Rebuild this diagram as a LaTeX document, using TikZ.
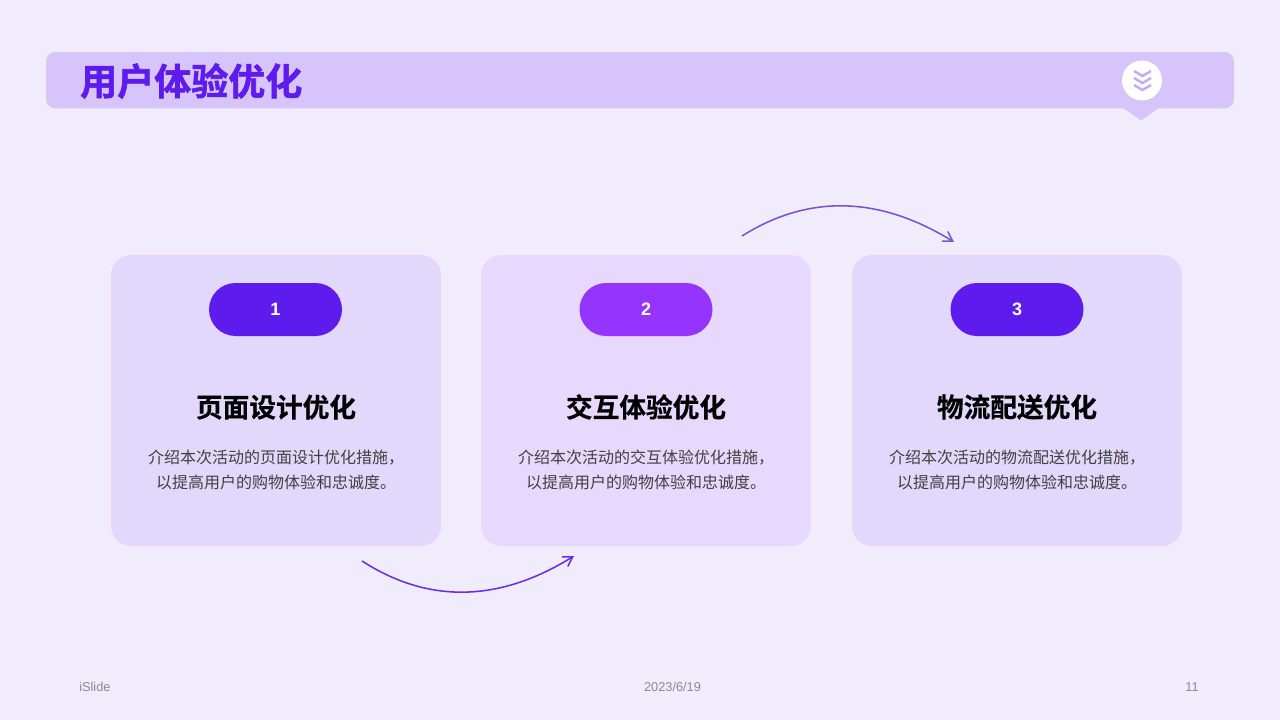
\documentclass[tikz,border=0pt]{standalone}
\usepackage{fontspec}
\setmainfont{Liberation Sans}
\newfontfamily\cjk{Noto Sans CJK SC}
\newfontfamily\cjkb{Noto Sans CJK SC Bold}[FakeBold=0.5]
\newfontfamily\cjkt{Noto Sans CJK SC Bold}[FakeBold=1.6]
\usetikzlibrary{arrows.meta,shapes.misc}
\definecolor{bgc}{HTML}{F0ECFC}
\definecolor{bannerc}{HTML}{D6C4FB}
\definecolor{cardA}{HTML}{E1D8FB}
\definecolor{cardB}{HTML}{E7D9FD}
\definecolor{pillA}{HTML}{5E1BEE}
\definecolor{pillB}{HTML}{9534FF}
\definecolor{chev}{HTML}{C4A8FA}
\definecolor{arrowA}{HTML}{6A2CF0}
\definecolor{arrowB}{HTML}{6F57D0}
\definecolor{bodyc}{HTML}{404040}
\definecolor{footc}{HTML}{8A8A8A}
\tikzset{
  x=0.75pt,y=-0.75pt,
  cardbox/.style={minimum width=247.5pt,minimum height=218.25pt,rounded corners=15pt,inner sep=0pt},
  pillbox/.style={rounded rectangle,minimum width=99.75pt,minimum height=39.75pt,inner sep=0pt,text=white,font=\fontsize{13.5pt}{16pt}\bfseries},
  headtext/.style={font=\cjkb\fontsize{20pt}{24pt}\selectfont,text=black,inner sep=0pt},
  bodytext/.style={font=\cjk\fontsize{12pt}{18.75pt}\selectfont,text=bodyc,align=center,inner sep=0pt},
  foottext/.style={font=\fontsize{9.6pt}{11pt}\selectfont,text=footc,inner sep=0pt},
  curvearrow/.style={line width=1.15pt,-{Straight Barb[length=7pt,width=8.5pt,line width=1.15pt]}},
  chevline/.style={draw=chev,line width=1.8pt,line join=miter}
}
\begin{document}
\begin{tikzpicture}
\useasboundingbox (0,0) rectangle (1280,720);
\fill[bgc] (0,0) rectangle (1280,720);
% banner
\fill[bannerc] (1122,107) -- (1141,120.5) -- (1160,107) -- cycle;
\node[fill=bannerc,rounded corners=7pt,minimum width=891pt,minimum height=42.25pt,inner sep=0pt] (banner) at (640,80.2) {};
\node[anchor=west,font=\cjkt\fontsize{27.75pt}{32pt}\selectfont,text=pillA,inner sep=0pt] (title) at (80,81) {用户体验优化};
\node[circle,fill=white,minimum size=30pt,inner sep=0pt] (badge) at (1142,80.5) {};
\draw[chevline] (1134,71) -- (1142.5,76) -- (1151,71);
\draw[chevline] (1134,78) -- (1142.5,83) -- (1151,78);
\draw[chevline] (1134,85) -- (1142.5,90) -- (1151,85);
% cards
\node[cardbox,fill=cardA] (c1) at (276,400.5) {};
\node[cardbox,fill=cardB] (c2) at (646,400.5) {};
\node[cardbox,fill=cardA] (c3) at (1017,400.5) {};
\node[pillbox,fill=pillA] (p1) at (275.5,309.5) {\raisebox{-0.6pt}{1}};
\node[pillbox,fill=pillB] (p2) at (646,309.5) {\raisebox{-0.6pt}{2}};
\node[pillbox,fill=pillA] (p3) at (1017,309.5) {\raisebox{-0.6pt}{3}};
\node[headtext] (h1) at (276,407) {页面设计优化};
\node[headtext] (h2) at (646,407) {交互体验优化};
\node[headtext] (h3) at (1017,407) {物流配送优化};
\node[bodytext] (b1) at (276,469.5) {介绍本次活动的页面设计优化措施，\\以提高用户的购物体验和忠诚度。};
\node[bodytext] (b2) at (646,469.5) {介绍本次活动的交互体验优化措施，\\以提高用户的购物体验和忠诚度。};
\node[bodytext] (b3) at (1017,469.5) {介绍本次活动的物流配送优化措施，\\以提高用户的购物体验和忠诚度。};
% arrows
\coordinate (a1s) at (362,561);
\coordinate (a1c) at (428.7,604);
\coordinate (a1d) at (499.3,602.3);
\coordinate (a1e) at (574,556);
\coordinate (a2s) at (742,236);
\coordinate (a2c) at (808.7,194);
\coordinate (a2d) at (879.3,196);
\coordinate (a2e) at (954,242);
\draw[curvearrow,arrowA] (a1s) .. controls (a1c) and (a1d) .. (a1e);
\draw[curvearrow,arrowB] (a2s) .. controls (a2c) and (a2d) .. (a2e);
% footer
\node[foottext,anchor=west] (f1) at (79,687) {iSlide};
\node[foottext] (f2) at (672.5,687) {2023/6/19};
\node[foottext,anchor=east] (f3) at (1199,687) {11};
\end{tikzpicture}
\end{document}
